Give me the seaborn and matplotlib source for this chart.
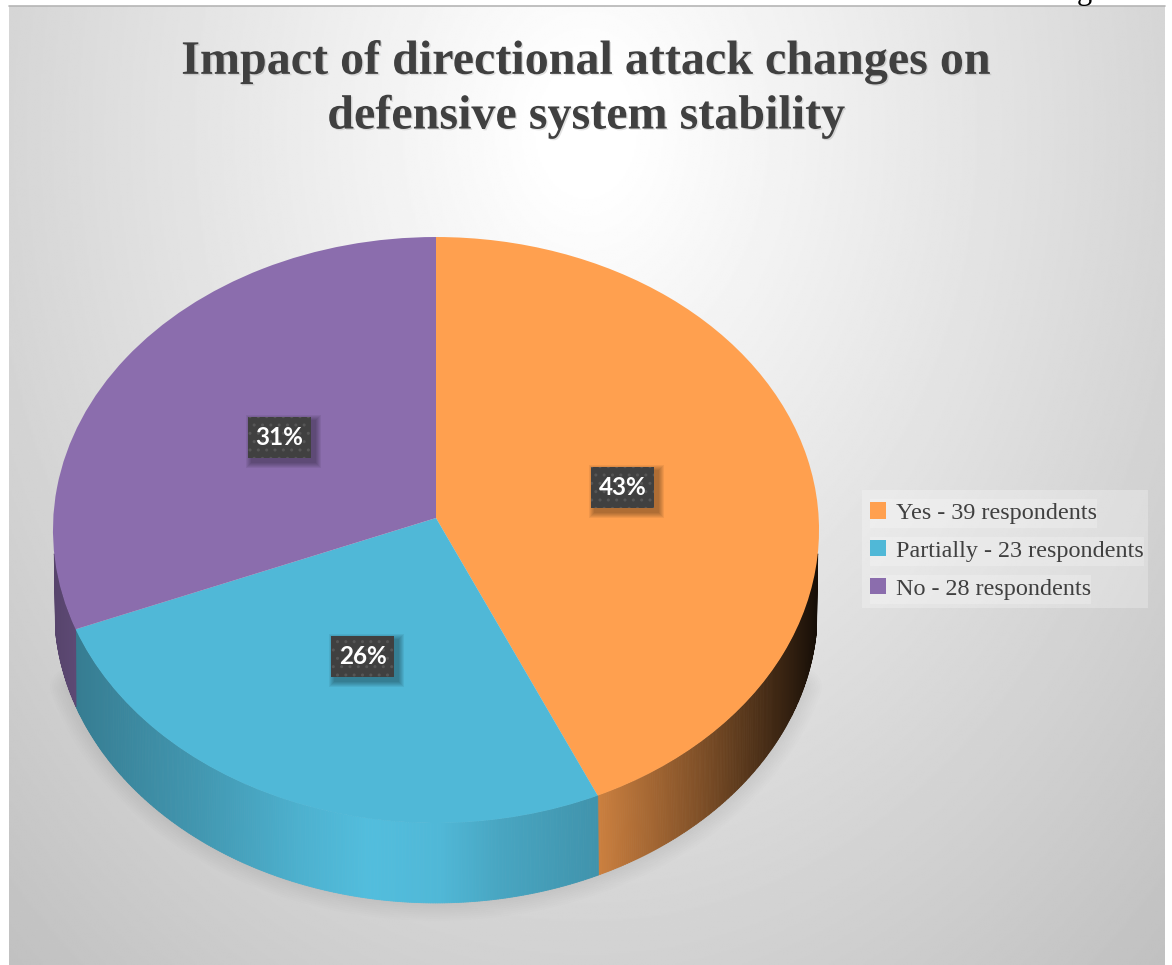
import numpy as np
import matplotlib
matplotlib.use("Agg")
import matplotlib.pyplot as plt
import matplotlib.patheffects as pe
import seaborn as sns
from matplotlib.collections import PolyCollection
from matplotlib.patches import Patch, Rectangle
from matplotlib.transforms import Transform

# Survey answers
answers = ["Yes", "Partially", "No"]
respondents = [39, 23, 28]
slice_colors = ["#FFA04F", "#50B8D7", "#8B6DAD"]
chart_title = "Impact of directional attack changes on\ndefensive system stability"

# Disc geometry, in figure pixels
WIDTH, HEIGHT = 1172, 965
CENTER_X = 436
TOP_DISC = dict(a=382.7, b=292.5, k=0.041, y0=518)
BOTTOM_DISC = dict(a=381.0, b=292.5, k=0.050, y0=595)
PANEL = (9, 1165, 965, 6)
LEGEND_BOX = (862, 490, 286, 118)

sns.set_theme(style="white")
colors = sns.color_palette(slice_colors)


class DiscProjection(Transform):
    """Perspective view of the unit circle laid flat on the page."""
    input_dims = output_dims = 2
    is_separable = False
    has_inverse = False

    def __init__(self, a, b, k, y0):
        super().__init__()
        self.a, self.b, self.k, self.y0 = a, b, k, y0

    def transform_non_affine(self, values):
        values = np.asarray(values, dtype=float)
        u, v = values[:, 0], values[:, 1]
        w = 1 + self.k * v
        return np.column_stack([CENTER_X + self.a * u / w, self.y0 - self.b * v / w])


top_disc = DiscProjection(**TOP_DISC)
bottom_disc = DiscProjection(**BOTTOM_DISC)


def unit_circle(theta_deg):
    t = np.radians(theta_deg)
    return np.column_stack([np.cos(t), np.sin(t)])


def side_shade(x):
    """Light falloff across the rim of the disc, by horizontal position."""
    return np.interp(x, [53, 80, 200, 300, 370, 440, 500, 598, 700, 790, 820],
                     [0.62, 0.68, 0.82, 0.96, 1.03, 1.0, 0.90, 0.80, 0.50, 0.20, 0.08])


fig = plt.figure(figsize=(WIDTH / 100, HEIGHT / 100), dpi=100, facecolor="white")
ax = fig.add_axes([0, 0, 1, 1])

wedges, _, pct_labels = ax.pie(
    respondents, colors=colors, startangle=90, counterclock=False,
    autopct="%.0f%%", pctdistance=0.5, wedgeprops=dict(zorder=4, linewidth=0),
)
ax.set_aspect("auto")
ax.axis("off")

# Panel background: soft radial gradient
xs, ys = np.meshgrid(np.linspace(PANEL[0], PANEL[1], 600), np.linspace(PANEL[3], PANEL[2], 600))
radius = np.hypot((xs - 586) / 576, (ys - 130) / 760)
shade = np.clip(258 - 44 * radius, 190, 255)
ax.imshow(shade, extent=PANEL, cmap="gray", vmin=0, vmax=255, aspect="auto", zorder=0,
          interpolation="bilinear")
ax.set_xlim(0, WIDTH)
ax.set_ylim(HEIGHT, 0)
ax.plot([PANEL[0], PANEL[1]], [PANEL[3], PANEL[3]], color="#b5b5b5", lw=1.2, zorder=1)

# Soft shadow hugging the disc
front = np.linspace(198, 342, 200)
rim_line = bottom_disc.transform_non_affine(unit_circle(front))
for lw in np.arange(2, 27, 3):
    ax.plot(rim_line[:, 0], rim_line[:, 1], color="black", lw=lw, alpha=0.006, zorder=2,
            solid_capstyle="round")

# Rim of the disc, built in thin shaded strips under each slice
for wedge, color in zip(wedges, colors):
    lo, hi = wedge.theta1 % 360, wedge.theta2 % 360
    if hi <= lo:
        hi += 360
    spans = []
    for shift in (0, 360, -360):
        a, b = max(lo + shift, 187), min(hi + shift, 353)
        if b > a:
            spans.append((a, b))
    for a, b in spans:
        edges = np.linspace(a, b, max(int((b - a) * 3), 2))
        upper = top_disc.transform_non_affine(unit_circle(edges))
        lower = bottom_disc.transform_non_affine(unit_circle(edges))
        quads = [[upper[i], upper[i + 1], lower[i + 1], lower[i]] for i in range(len(edges) - 1)]
        mids = (upper[:-1, 0] + upper[1:, 0]) / 2
        fills = [tuple(np.clip(np.array(color) * side_shade(m), 0, 1)) for m in mids]
        ax.add_collection(PolyCollection(quads, facecolors=fills, edgecolors=fills,
                                         linewidths=0.6, zorder=3))

# Top face of the pie
for wedge in wedges:
    wedge.set_transform(top_disc + ax.transData)

# Percentage labels on dark dotted tags
for label in pct_labels:
    label.set_transform(top_disc + ax.transData)
    label.set(color="white", fontsize=17.5, fontweight="bold", family="Lato",
              ha="center", va="center", zorder=7)
    px, py = top_disc.transform_non_affine(np.array([label.get_position()]))[0]
    tag_w, tag_h = 63, 41
    for step in range(6, 0, -1):
        ax.add_patch(Rectangle((px - tag_w / 2 + 4 - step, py - tag_h / 2 + 4 - step),
                               tag_w + 2 * step, tag_h + 2 * step, facecolor="black",
                               edgecolor="none", alpha=0.06, zorder=5))
    ax.add_patch(Rectangle((px - tag_w / 2, py - tag_h / 2), tag_w, tag_h, facecolor="#404040",
                           edgecolor="#565656", hatch="..", linewidth=0, zorder=6))

# Title
ax.text(586, 89, chart_title, ha="center", va="center", ma="center", color="#404040",
        fontsize=34.6, fontweight="bold", family="Liberation Serif", linespacing=1.3, zorder=7,
        path_effects=[pe.withSimplePatchShadow(offset=(1, -1), shadow_rgbFace="#404040",
                                               alpha=0.15)])

# Legend
ax.add_patch(Rectangle(LEGEND_BOX[:2], LEGEND_BOX[2], LEGEND_BOX[3], facecolor="white",
                       edgecolor="none", alpha=0.25, zorder=6))
handles = [Patch(facecolor=c, edgecolor="none") for c in colors]
labels = [f"{name} - {count} respondents" for name, count in zip(answers, respondents)]
legend = ax.legend(handles, labels, loc="upper left", bbox_to_anchor=(LEGEND_BOX[0], LEGEND_BOX[1] + 4),
                   bbox_transform=ax.transData, borderaxespad=0, frameon=False,
                   handlelength=0.65, handleheight=0.65, handletextpad=0.42, labelspacing=0.67,
                   borderpad=0.35, prop=dict(family="Liberation Serif", size=17.4),
                   labelcolor="#404040")
legend.set_zorder(7)

# Lighter band behind each legend row
fig.canvas.draw()
to_data = ax.transData.inverted()
for handle, text in zip(legend.legend_handles, legend.get_texts()):
    box = text.get_window_extent()
    x0, y0 = to_data.transform((handle.get_window_extent().x0, box.y0))
    x1, y1 = to_data.transform((box.x1, box.y1))
    ax.add_patch(Rectangle((x0, y1 - 4), x1 - x0, y0 - y1 + 8, facecolor="white",
                           edgecolor="none", alpha=0.22, zorder=6.5))

# Tail of a letter from the line above the panel
ax.text(1084, -1, "g", ha="center", va="baseline", fontsize=22, color="black",
        family="Liberation Serif", zorder=8)

fig.savefig("out.png", dpi=100, facecolor="white")
